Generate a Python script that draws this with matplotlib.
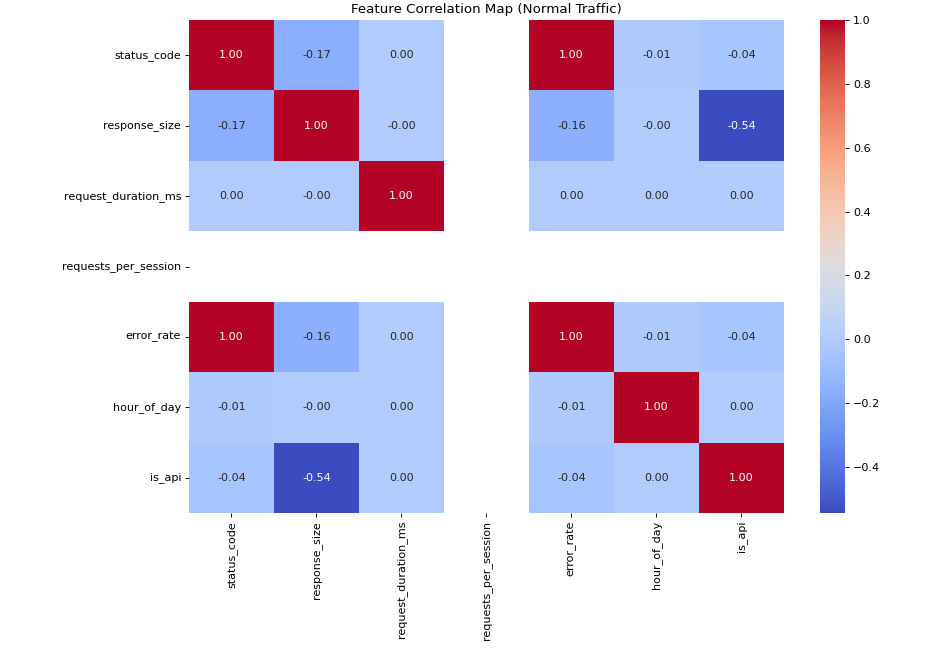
import numpy as np
import pandas as pd
import matplotlib
matplotlib.use("Agg")
import matplotlib.pyplot as plt
import seaborn as sns

features = ["status_code", "response_size", "request_duration_ms",
            "requests_per_session", "error_rate", "hour_of_day", "is_api"]
nan = np.nan
row_status = [1.00, -0.17, 0.002, nan, 1.00, -0.01, -0.04]
row_size = [-0.17, 1.00, -0.001, nan, -0.16, -0.001, -0.544]
row_dur = [0.002, -0.001, 1.00, nan, 0.002, 0.001, 0.001]
row_rps = [nan, nan, nan, nan, nan, nan, nan]
row_err = [1.00, -0.16, 0.002, nan, 1.00, -0.01, -0.04]
row_hour = [-0.01, -0.001, 0.001, nan, -0.01, 1.00, 0.001]
row_api = [-0.04, -0.544, 0.001, nan, -0.04, 0.001, 1.00]

corr = pd.DataFrame([row_status, row_size, row_dur, row_rps, row_err, row_hour, row_api],
                    index=features, columns=features)

plt.rcParams.update({
    "font.size": 8,
    "xtick.major.size": 2.8,
    "ytick.major.size": 2.8,
    "xtick.major.width": 0.64,
    "ytick.major.width": 0.64,
    "xtick.major.pad": 2.8,
    "ytick.major.pad": 2.8,
})

W, H = 929, 648
fig = plt.figure(figsize=(W / 100, H / 100), dpi=100)
ax = fig.add_axes([189 / W, 1 - 513 / H, (784 - 189) / W, (513 - 20) / H])
cax = fig.add_axes([820 / W, 1 - 513 / H, 25 / W, (513 - 20) / H])
sns.heatmap(corr, annot=True, fmt=".2f", cmap="coolwarm", ax=ax, cbar_ax=cax,
            annot_kws={"fontsize": 8})
ax.tick_params(labelsize=8)
cax.tick_params(labelsize=8)
ax.set_title("Feature Correlation Map (Normal Traffic)", fontsize=9.6, pad=4.8)
fig.savefig("out.png", dpi=100)
